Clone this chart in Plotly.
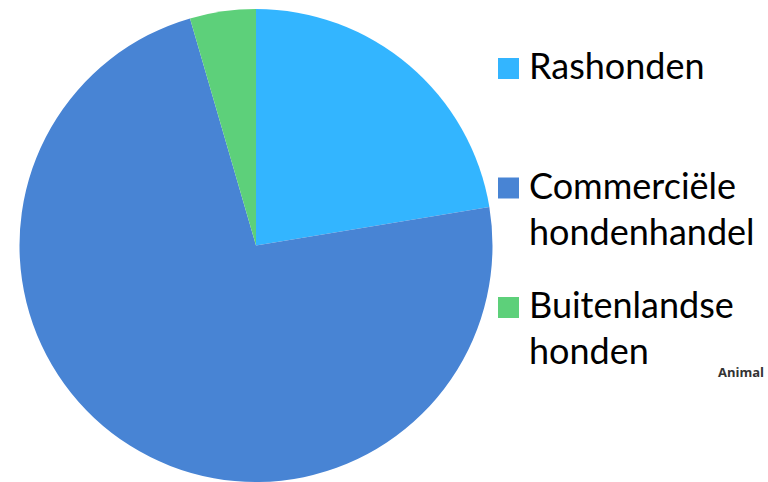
import plotly.graph_objects as go

labels = ["Rashonden", "Commerciële hondenhandel", "Buitenlandse honden"]
label_lines = [["Rashonden"], ["Commerciële", "hondenhandel"], ["Buitenlandse", "honden"]]
values = [22.4, 73.1, 4.5]
colors = ["#33B5FF", "#4884D4", "#5DD07A"]

W, H = 768, 482

fig = go.Figure()
fig.add_trace(go.Pie(
    labels=labels, values=values,
    marker=dict(colors=colors, line=dict(width=0)),
    sort=False, direction="clockwise", rotation=0,
    textinfo="none", hoverinfo="label+percent",
    showlegend=False,
    domain=dict(x=[19 / W, 493 / W], y=[0, 473 / H]),
))

font_size = 36
line_gap = 46
item_gap = 119.5
first_top = 58
sq = 21
for i, (lines, col) in enumerate(zip(label_lines, colors)):
    top = first_top + i * item_gap
    fig.add_shape(type="rect", xref="paper", yref="paper",
                  x0=498 / W, x1=(498 + sq) / W,
                  y0=1 - (top + sq) / H, y1=1 - top / H,
                  fillcolor=col, line=dict(width=0))
    for j, ln in enumerate(lines):
        baseline = top + sq + j * line_gap
        fig.add_annotation(text=ln, xref="paper", yref="paper",
                           x=527 / W, y=1 - (baseline + 10) / H,
                           xanchor="left", yanchor="bottom", showarrow=False,
                           font=dict(family="Lato", size=font_size, color="#000000"))

fig.add_annotation(text="<b>Animal</b>", xref="paper", yref="paper",
                   x=766 / W, y=1 - 372 / H, xanchor="right", yanchor="middle",
                   showarrow=False, font=dict(family="Open Sans", size=13, color="#333333"))

fig.update_layout(width=W, height=H, margin=dict(l=0, r=0, t=0, b=0),
                  paper_bgcolor="white", plot_bgcolor="white")
fig.write_html("out.html")
